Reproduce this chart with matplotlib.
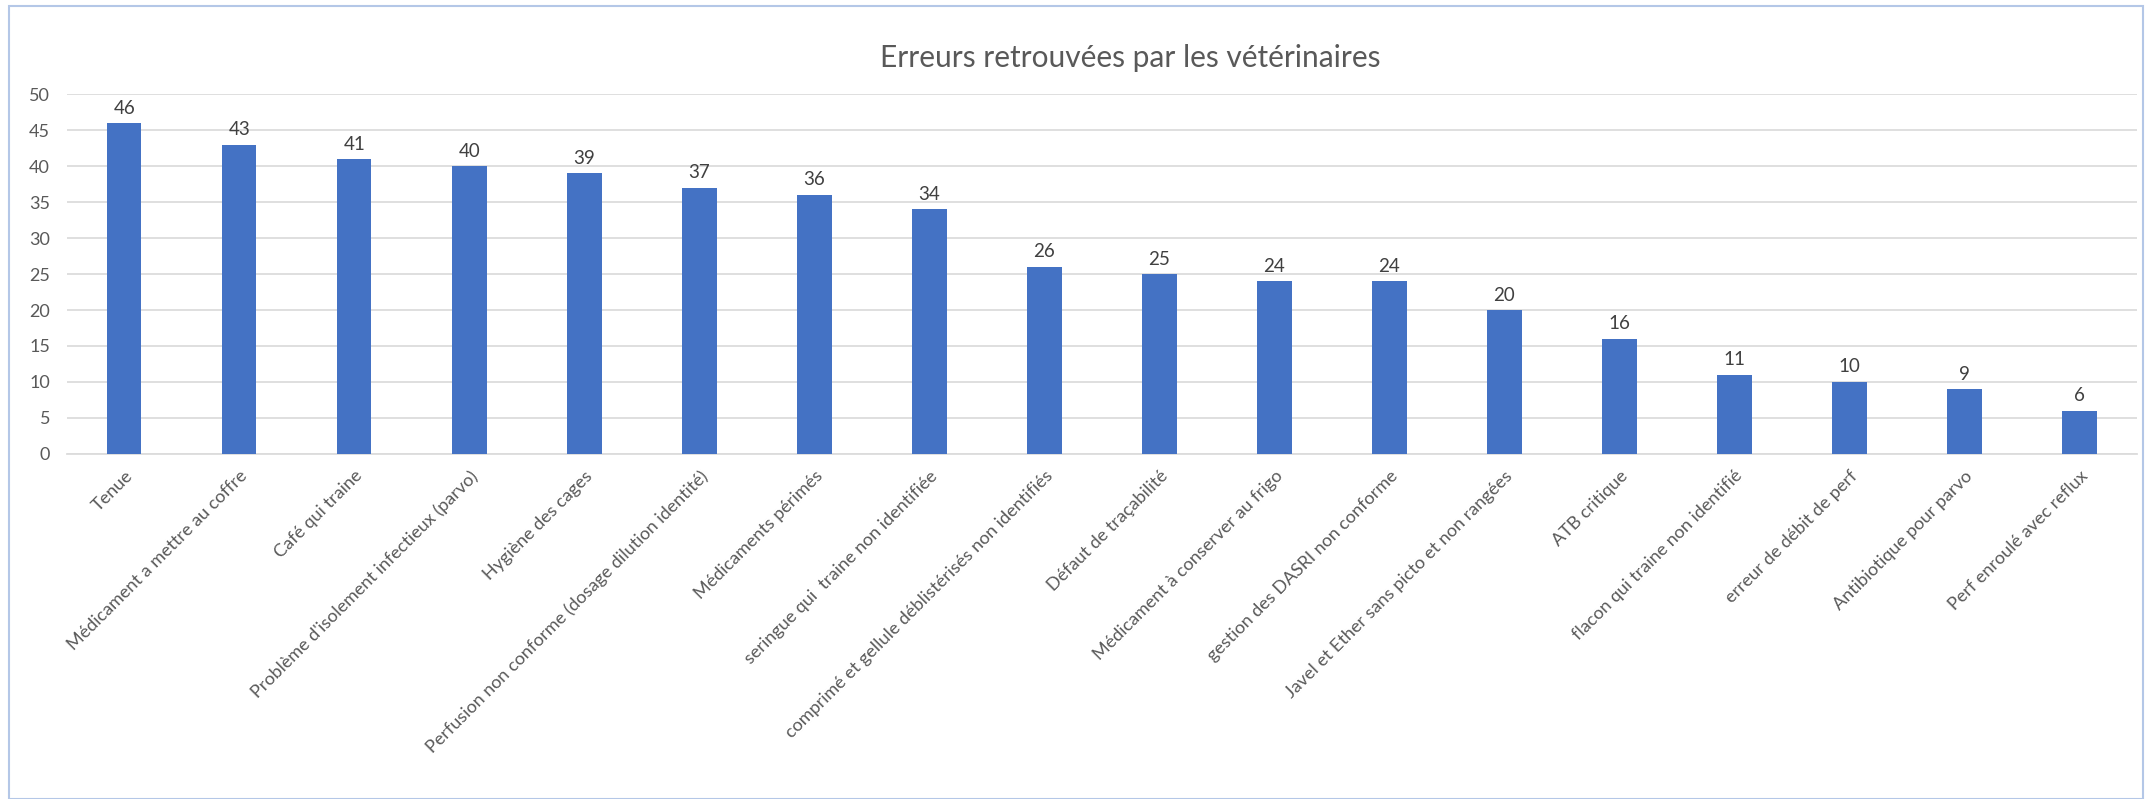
import matplotlib.pyplot as plt
from matplotlib.patches import Rectangle

categories = [
    "Tenue",
    "Médicament a mettre au coffre",
    "Café qui traine",
    "Problème d'isolement infectieux (parvo)",
    "Hygiène des cages",
    "Perfusion non conforme (dosage dilution identité)",
    "Médicaments périmés",
    "seringue qui  traine non identifiée",
    "comprimé et gellule déblistérisés non identifiés",
    "Défaut de traçabilité",
    "Médicament à conserver au frigo",
    "gestion des DASRI non conforme",
    "Javel et Ether sans picto et non rangées",
    "ATB critique",
    "flacon qui traine non identifié",
    "erreur de débit de perf",
    "Antibiotique pour parvo",
    "Perf enroulé avec reflux",
]
counts = [46, 43, 41, 40, 39, 37, 36, 34, 26, 25, 24, 24, 20, 16, 11, 10, 9, 6]
title = "Erreurs retrouvées par les vétérinaires"

plt.rcParams['font.family'] = ['Lato', 'DejaVu Sans']
text_col = '#595959'

fig = plt.figure(figsize=(21.52, 7.99), dpi=100)
ax = fig.add_axes([0.031, 0.432, 0.962, 0.45])

x = list(range(len(categories)))
ax.bar(x, counts, width=0.30, color='#4472C4', zorder=3)
for xi, v in zip(x, counts):
    ax.text(xi, v + 0.9, str(v), ha='center', va='bottom', fontsize=13.5, color='#404040')

ax.set_xlim(-0.5, len(categories) - 0.5)
ax.set_ylim(0, 50)
ax.set_yticks(range(0, 51, 5))
ax.yaxis.grid(True, color='#dcdcdc', linewidth=1.3, zorder=0)
ax.set_xticks(x)
ax.set_xticklabels(categories, rotation=45, ha='right', rotation_mode='anchor',
                   fontsize=13, color=text_col)
ax.tick_params(axis='y', labelsize=13, labelcolor=text_col, length=0, pad=12)
ax.tick_params(axis='x', length=0, pad=10)
for s in ['top', 'right', 'left']:
    ax.spines[s].set_visible(False)
ax.spines['bottom'].set_color('#dcdcdc')
ax.spines['bottom'].set_linewidth(1.3)

fig.text(0.525, 0.928, title, ha='center', va='center', fontsize=21.5, color=text_col)

# chart frame
fig.patches.append(Rectangle((0.004, 0.0), 0.992, 0.993, transform=fig.transFigure,
                             fill=False, edgecolor='#b4c7e7', linewidth=1.5))

fig.savefig('out.png', dpi=100)
